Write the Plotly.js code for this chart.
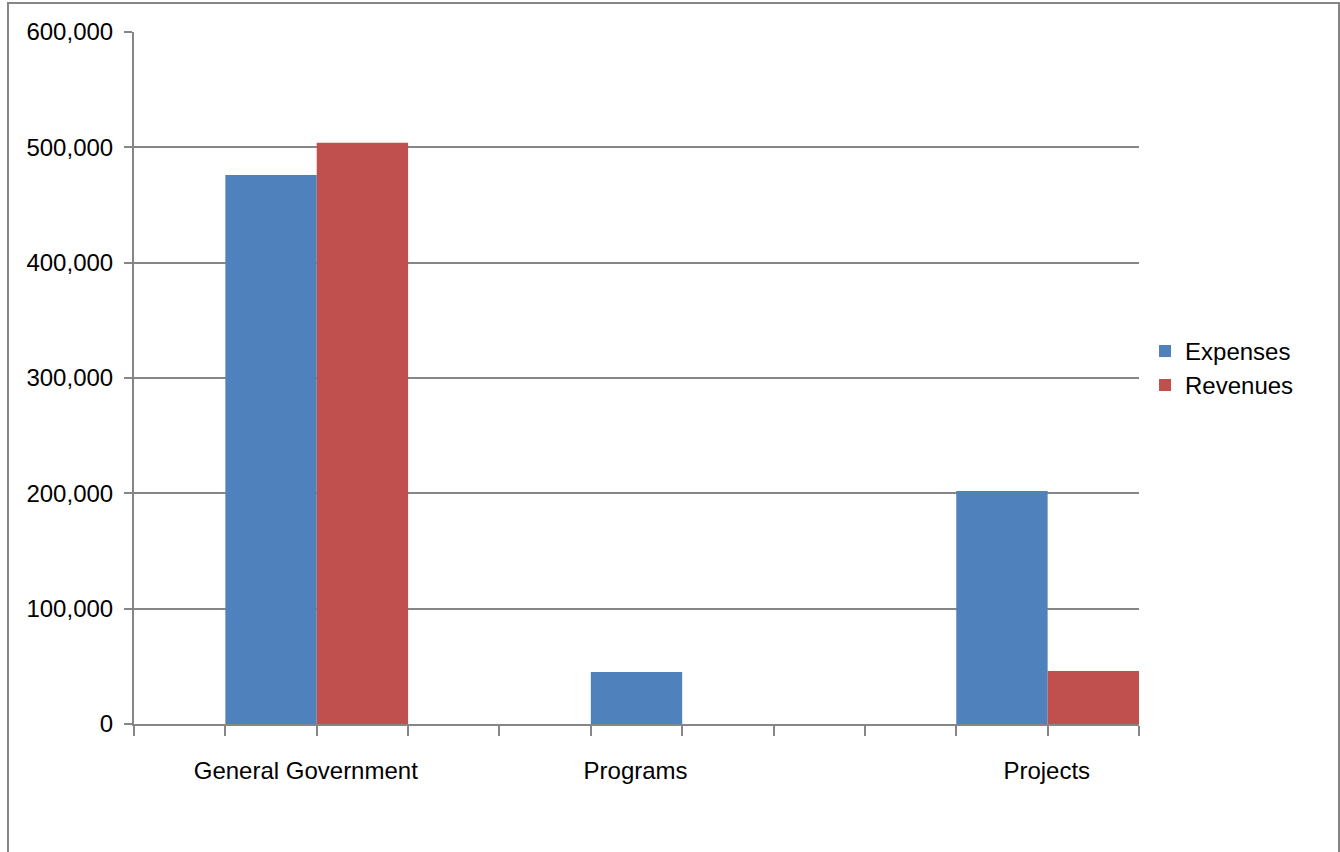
<!DOCTYPE html>
<html>
<head>
<meta charset="utf-8">
<script src="https://cdn.plot.ly/plotly-3.0.1.min.js"></script>
<style>
html,body{margin:0;padding:0;background:#fff;}
#chart{width:1340px;height:852px;}
</style>
</head>
<body>
<div id="chart"></div>
<script>
// ---- data ----
const categories = ["General Government", "Programs", "Projects"];
const expenses = [476000, 45000, 202000];
const revenues = [504000, 0, 46000];
const seriesNames = ["Expenses", "Revenues"];
const yTickVals = [0, 100000, 200000, 300000, 400000, 500000, 600000];

// ---- layout helpers (style, not data) ----
const slot = 3 / 11;              // one bar slot in category units
const barW = slot;
const expOffset = [-0.5 + 1 * slot, -1.5 + 5 * slot, -2.5 + 9 * slot];
const revOffset = [-0.5 + 2 * slot, -1.5 + 6 * slot, -2.5 + 10 * slot];
const labelPos = [1.88, 5.49, 9.99];   // label positions on the 11-slot guide axis

const gray = "#868686";
const font = {family: "Liberation Sans, Arial, sans-serif", size: 24, color: "#000"};

const traces = [
  {type: "bar", name: seriesNames[0], x: categories, y: expenses,
   marker: {color: "#4F81BD", line: {width: 0}},
   offset: expOffset, width: expenses.map(() => barW), hoverinfo: "x+y+name"},
  {type: "bar", name: seriesNames[1], x: categories, y: revenues,
   marker: {color: "#C0504D", line: {width: 0}},
   offset: revOffset, width: revenues.map(() => barW), hoverinfo: "x+y+name"},
  // invisible helpers to activate overlay axes
  {type: "scatter", x: [0, 11], y: [0, 0], xaxis: "x2", mode: "none", showlegend: false, hoverinfo: "skip"},
  {type: "scatter", x: [0, 11], y: [0, 0], xaxis: "x3", mode: "none", showlegend: false, hoverinfo: "skip"}
];

const layout = {
  width: 1340, height: 852,
  margin: {l: 134, r: 201, t: 32, b: 128, pad: 0},
  paper_bgcolor: "#fff", plot_bgcolor: "#fff",
  font: font,
  barmode: "group",
  showlegend: true,
  legend: {x: 1.006, xanchor: "left", y: 0.514, yanchor: "middle",
           font: font, bgcolor: "rgba(0,0,0,0)", itemwidth: 30, tracegroupgap: 0},
  xaxis: {type: "category", range: [-0.5, 2.5], showticklabels: false, ticks: "",
          showgrid: false, zeroline: false, showline: false, fixedrange: true},
  xaxis2: {overlaying: "x", range: [0, 11], tickmode: "linear", tick0: 0, dtick: 1,
           ticks: "outside", ticklen: 10, tickwidth: 2, tickcolor: gray,
           showticklabels: false, showgrid: false, zeroline: false,
           showline: true, linecolor: gray, linewidth: 2, side: "bottom", fixedrange: true},
  xaxis3: {overlaying: "x", range: [0, 11], tickmode: "array", tickvals: labelPos, ticktext: categories,
           ticks: "", showgrid: false, zeroline: false, showline: false, side: "bottom",
           ticklabelstandoff: 30, tickfont: font, fixedrange: true},
  yaxis: {range: [0, 600000], tickmode: "array", tickvals: yTickVals, tickformat: ",d",
          ticks: "outside", ticklen: 8, tickwidth: 2, tickcolor: gray,
          showgrid: true, gridcolor: gray, gridwidth: 2,
          showline: true, linecolor: gray, linewidth: 2, zeroline: false,
          tickfont: font, ticklabelstandoff: 6, fixedrange: true},
  shapes: [{type: "rect", xref: "paper", yref: "paper",
            x0: -0.1254, x1: 1.1990, y0: -0.25, y1: 1.0419,
            line: {color: gray, width: 2}, fillcolor: "rgba(0,0,0,0)", layer: "below"}]
};

Plotly.newPlot("chart", traces, layout, {displayModeBar: false, staticPlot: true});
</script>
</body>
</html>
